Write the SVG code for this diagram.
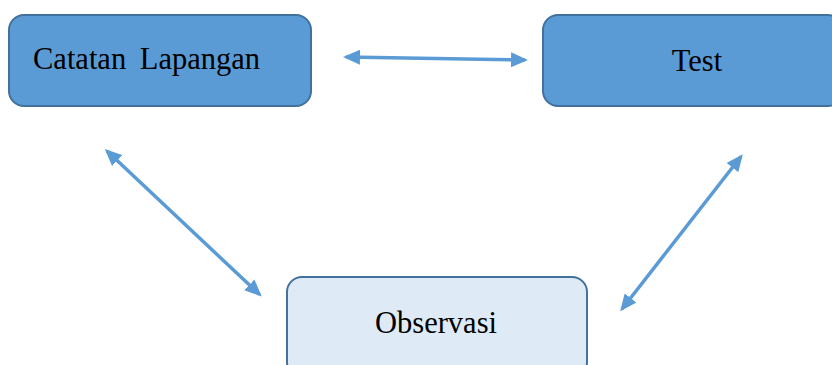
<svg xmlns="http://www.w3.org/2000/svg" width="832" height="365" viewBox="0 0 832 365">
<defs>
<style>
.box{fill:#5B9BD5;stroke:#41719C;stroke-width:2}
.lite{fill:#DEEBF7;stroke:#41719C;stroke-width:2}
.lbl{font-family:"Liberation Serif","Times New Roman",serif;font-size:30.5px;fill:#000}
.conn{stroke:#5B9BD5;stroke-width:3.5;fill:none;marker-start:url(#ah);marker-end:url(#ah)}
</style>
<marker id="ah" markerUnits="userSpaceOnUse" markerWidth="17" markerHeight="15" refX="14" refY="7.5" orient="auto-start-reverse">
<path d="M0,0 L17,7.5 L0,15 z" fill="#5B9BD5"/>
</marker>
</defs>
<g id="node-catatan">
<rect class="box" x="9" y="15" width="302" height="91" rx="15"/>
<text class="lbl" x="33" y="69" word-spacing="6">Catatan Lapangan</text>
</g>
<g id="node-test">
<rect class="box" x="543" y="15" width="300" height="91" rx="15"/>
<text class="lbl" x="697" y="71" text-anchor="middle">Test</text>
</g>
<g id="node-observasi">
<rect class="lite" x="287" y="277" width="300" height="100" rx="15"/>
<text class="lbl" x="436" y="333" text-anchor="middle">Observasi</text>
</g>
<g id="connectors">
<line class="conn" x1="346" y1="57" x2="525" y2="60"/>
<line class="conn" x1="107" y1="151" x2="259.5" y2="294.5"/>
<line class="conn" x1="741" y1="156.5" x2="622" y2="309"/>
</g>
</svg>
